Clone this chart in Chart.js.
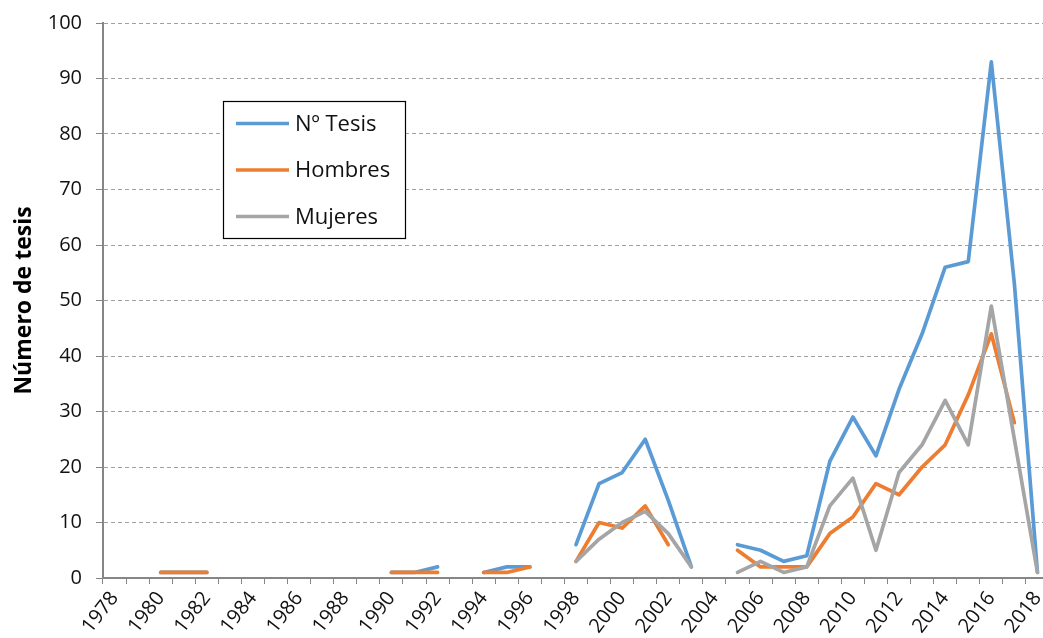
<!DOCTYPE html>
<html>
<head>
<meta charset="utf-8">
<script src="https://cdn.jsdelivr.net/npm/chart.js@4/dist/chart.umd.min.js"></script>
<style>
  html, body { margin: 0; padding: 0; background: #fff; overflow: hidden; }
  #wrap { position: relative; width: 1050px; height: 638px; }
</style>
</head>
<body>
<div id="wrap"><canvas id="c" width="1050" height="638"></canvas></div>
<script>
const years = ['1978','1979','1980','1981','1982','1983','1984','1985','1986','1987','1988','1989','1990','1991','1992','1993','1994','1995','1996','1997','1998','1999','2000','2001','2002','2003','2004','2005','2006','2007','2008','2009','2010','2011','2012','2013','2014','2015','2016','2017','2018'];
const tesis   = [null,null,1,1,1,null,null,null,null,null,null,null,1,1,2,null,1,2,2,null,6,17,19,25,14,2,null,6,5,3,4,21,29,22,34,44,56,57,93,53,1];
const hombres = [null,null,1,1,1,null,null,null,null,null,null,null,1,1,1,null,1,1,2,null,3,10,9,13,6,null,null,5,2,2,2,8,11,17,15,20,24,33,44,28,null];
const mujeres = [null,null,null,null,null,null,null,null,null,null,null,null,null,null,null,null,null,null,null,null,3,7,10,12,8,2,null,1,3,1,2,13,18,5,19,24,32,24,49,25,1];
const seriesNames = ['Nº Tesis','Hombres','Mujeres'];
const yTicks = [0,10,20,30,40,50,60,70,80,90,100];

const FONT = "'Open Sans', 'Liberation Sans', sans-serif";

const legendPlugin = {
  id: 'boxLegend',
  afterDraw(chart) {
    const ctx = chart.ctx;
    ctx.save();
    const bx = 223, by = 101, bw = 182, bh = 137;
    ctx.fillStyle = '#fff';
    ctx.fillRect(bx, by, bw, bh);
    ctx.strokeStyle = '#000';
    ctx.lineWidth = 1.2;
    ctx.strokeRect(bx + 0.5, by + 0.5, bw, bh);
    const rows = [123.5, 170, 216.5];
    chart.data.datasets.forEach((ds, i) => {
      const y = rows[i];
      ctx.strokeStyle = ds.borderColor;
      ctx.lineWidth = 3.5;
      ctx.lineCap = 'butt';
      ctx.beginPath();
      ctx.moveTo(236, y);
      ctx.lineTo(289, y);
      ctx.stroke();
      ctx.fillStyle = '#111';
      ctx.font = "22px " + FONT;
      ctx.textBaseline = 'middle';
      ctx.textAlign = 'left';
      ctx.fillText(ds.label, 295, y + 1);
    });
    ctx.restore();
  }
};

const mk = (label, data, color, order) => ({
  label, data, borderColor: color, backgroundColor: color,
  borderWidth: 3.7, pointRadius: 0, pointHoverRadius: 0, tension: 0,
  spanGaps: false, fill: false, order,
  borderCapStyle: 'round', borderJoinStyle: 'round'
});

new Chart(document.getElementById('c'), {
  type: 'line',
  data: {
    labels: years,
    datasets: [
      mk(seriesNames[0], tesis, '#5B9BD5', 3),
      mk(seriesNames[1], hombres, '#ED7D31', 2),
      mk(seriesNames[2], mujeres, '#A5A5A5', 1)
    ]
  },
  options: {
    responsive: false,
    animation: false,
    events: [],
    layout: { padding: { top: 23, right: 1, left: 0, bottom: 0 } },
    plugins: { legend: { display: false }, tooltip: { enabled: false } },
    scales: {
      x: {
        type: 'category',
        offset: true,
        afterFit(scale) { scale.height = 60; scale.paddingLeft = 0; scale.paddingRight = 0; },
        border: { display: true, color: '#868686', width: 2 },
        grid: { display: true, drawOnChartArea: false, drawTicks: true, tickLength: 6, color: '#868686', lineWidth: 1, offset: true },
        ticks: {
          autoSkip: false, minRotation: 52, maxRotation: 52, padding: 3,
          color: '#111', font: { family: FONT, size: 20 },
          callback(v, i) { const l = years[i]; return (parseInt(l) % 2 === 0) ? l : ''; }
        }
      },
      y: {
        min: 0, max: 100,
        afterFit(scale) { scale.width = 103; scale.paddingTop = 0; scale.paddingBottom = 0; },
        afterBuildTicks(scale) { scale.ticks = yTicks.map(v => ({ value: v })); },
        border: { display: true, color: '#868686', width: 2, dash: [4, 3] },
        grid: { color: '#a0a0a0', lineWidth: 1, drawTicks: true, tickLength: 7, tickColor: '#868686', tickBorderDash: [] },
        ticks: { color: '#111', font: { family: FONT, size: 20 }, padding: 14 },
        title: { display: true, text: 'Número de tesis', color: '#000', font: { family: FONT, size: 23, weight: 'bold' }, padding: { top: 11, bottom: 0 } }
      }
    }
  },
  plugins: [legendPlugin]
});
</script>
</body>
</html>
